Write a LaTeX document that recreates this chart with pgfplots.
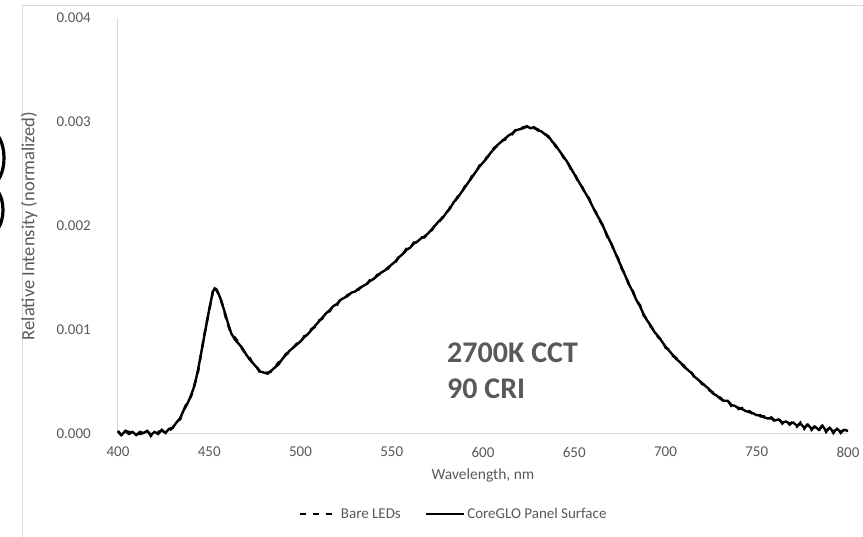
\documentclass[border=0pt]{standalone}
\usepackage{pgfplots}
\usepackage{pgfplotstable}
\pgfplotsset{compat=1.18}
\usepackage{fontspec}
\setmainfont{Carlito}
\definecolor{tickgray}{HTML}{595959}
\definecolor{linegray}{HTML}{D9D9D9}
\pgfplotstableread{
wl bare core
400 0.00003 0.00002
402 -0.00002 -0.00001
404 0.00003 0.00003
406 0.00002 0.00000
408 0.00001 0.00002
410 0.00000 -0.00001
412 0.00000 0.00002
414 0.00001 0.00001
416 0.00004 0.00003
418 -0.00002 -0.00001
420 0.00002 0.00002
422 0.00002 0.00000
424 0.00003 0.00004
426 0.00002 0.00001
428 0.00003 0.00005
430 0.00006 0.00006
432 0.00012 0.00011
434 0.00014 0.00015
436 0.00023 0.00023
438 0.00031 0.00029
440 0.00036 0.00037
442 0.00048 0.00047
444 0.00061 0.00063
446 0.00082 0.00082
448 0.00102 0.00101
450 0.00119 0.00120
452 0.00137 0.00137
453 0.00142 0.00140
454 0.00138 0.00139
456 0.00132 0.00131
458 0.00119 0.00120
460 0.00106 0.00108
462 0.00097 0.00097
464 0.00093 0.00091
466 0.00088 0.00087
468 0.00082 0.00083
470 0.00077 0.00077
472 0.00074 0.00072
474 0.00067 0.00068
476 0.00065 0.00064
478 0.00058 0.00060
480 0.00059 0.00059
482 0.00059 0.00058
484 0.00060 0.00061
486 0.00064 0.00064
488 0.00069 0.00067
490 0.00071 0.00072
492 0.00077 0.00076
494 0.00078 0.00080
496 0.00083 0.00083
498 0.00087 0.00086
500 0.00088 0.00089
502 0.00094 0.00093
504 0.00095 0.00096
506 0.00101 0.00100
508 0.00103 0.00104
510 0.00109 0.00108
512 0.00111 0.00112
514 0.00117 0.00116
516 0.00118 0.00119
518 0.00124 0.00123
520 0.00124 0.00125
522 0.00130 0.00129
524 0.00130 0.00131
526 0.00134 0.00133
528 0.00135 0.00136
530 0.00138 0.00137
532 0.00139 0.00140
534 0.00143 0.00142
536 0.00143 0.00144
538 0.00148 0.00147
540 0.00148 0.00149
542 0.00153 0.00152
544 0.00154 0.00155
546 0.00158 0.00157
548 0.00159 0.00160
550 0.00164 0.00163
552 0.00165 0.00166
554 0.00171 0.00170
556 0.00172 0.00173
558 0.00178 0.00177
560 0.00178 0.00179
562 0.00184 0.00183
564 0.00184 0.00185
566 0.00189 0.00188
568 0.00189 0.00190
570 0.00194 0.00193
572 0.00196 0.00197
574 0.00202 0.00201
576 0.00204 0.00205
578 0.00209 0.00208
580 0.00212 0.00213
582 0.00218 0.00217
584 0.00222 0.00223
586 0.00228 0.00227
588 0.00231 0.00232
590 0.00238 0.00237
592 0.00241 0.00242
594 0.00248 0.00247
596 0.00251 0.00252
598 0.00258 0.00257
600 0.00260 0.00261
602 0.00266 0.00265
604 0.00269 0.00270
606 0.00275 0.00274
608 0.00277 0.00278
610 0.00282 0.00281
612 0.00283 0.00284
614 0.00288 0.00287
616 0.00288 0.00289
618 0.00293 0.00292
620 0.00292 0.00293
622 0.00295 0.00294
624 0.00295 0.00296
626 0.00295 0.00294
628 0.00294 0.00295
630 0.00293 0.00292
632 0.00290 0.00291
634 0.00289 0.00288
636 0.00285 0.00286
638 0.00282 0.00281
640 0.00276 0.00277
642 0.00273 0.00272
644 0.00266 0.00267
646 0.00263 0.00262
648 0.00255 0.00256
650 0.00251 0.00250
652 0.00243 0.00244
654 0.00239 0.00238
656 0.00231 0.00232
658 0.00227 0.00226
660 0.00218 0.00219
662 0.00213 0.00212
664 0.00205 0.00206
666 0.00200 0.00199
668 0.00190 0.00191
670 0.00185 0.00184
672 0.00175 0.00176
674 0.00169 0.00168
676 0.00159 0.00160
678 0.00153 0.00152
680 0.00143 0.00144
682 0.00138 0.00137
684 0.00128 0.00129
686 0.00124 0.00123
688 0.00114 0.00115
690 0.00110 0.00109
692 0.00103 0.00104
694 0.00099 0.00098
696 0.00093 0.00094
698 0.00090 0.00089
700 0.00083 0.00084
702 0.00081 0.00080
704 0.00075 0.00076
706 0.00073 0.00072
708 0.00068 0.00069
710 0.00066 0.00065
712 0.00061 0.00062
714 0.00060 0.00059
716 0.00054 0.00055
718 0.00053 0.00052
720 0.00048 0.00049
722 0.00047 0.00046
724 0.00042 0.00043
726 0.00040 0.00039
728 0.00036 0.00037
730 0.00035 0.00034
732 0.00031 0.00032
734 0.00033 0.00032
736 0.00027 0.00028
738 0.00028 0.00027
740 0.00024 0.00025
742 0.00025 0.00024
744 0.00021 0.00022
746 0.00022 0.00021
748 0.00019 0.00020
750 0.00019 0.00018
752 0.00017 0.00018
754 0.00017 0.00016
756 0.00014 0.00015
758 0.00016 0.00015
760 0.00012 0.00013
762 0.00015 0.00014
764 0.00010 0.00011
766 0.00013 0.00012
768 0.00009 0.00010
770 0.00012 0.00011
772 0.00007 0.00008
774 0.00011 0.00010
776 0.00005 0.00006
778 0.00010 0.00009
780 0.00004 0.00005
782 0.00008 0.00007
784 0.00003 0.00004
786 0.00009 0.00008
788 0.00002 0.00003
790 0.00007 0.00006
792 0.00001 0.00002
794 0.00006 0.00005
796 0.00001 0.00002
798 0.00005 0.00004
800 0.00002 0.00003
}\spectrum
\begin{document}
\begin{tikzpicture}
% page = 863 x 537, axis box lower-left at (118pt,103pt) from page lower-left
\useasboundingbox (-118pt,-103pt) rectangle (745pt,434pt);
\fill[white] (-118pt,-103pt) rectangle (745pt,434pt);
% chart frame (cropped at right and bottom)
\draw[linegray, line width=1pt] (-95pt,-115pt) -- (-95pt,428pt) -- (760pt,428pt);
% partly cropped glyph shapes at the far left
\draw[black, line width=3.2pt] (-128pt,303pt) arc[start angle=90, end angle=-90, x radius=14pt, y radius=27pt];
\draw[black, line width=3.2pt] (-130pt,249pt) arc[start angle=90, end angle=-90, x radius=15pt, y radius=25pt];
\begin{axis}[
  at={(0pt,0pt)}, anchor=south west,
  scale only axis, width=730pt, height=416pt,
  xmin=400, xmax=800, ymin=0, ymax=0.004,
  clip=false,
  axis x line*=bottom, axis y line*=left,
  axis line style={linegray, line width=1pt, -},
  major tick length=0pt,
  xtick={400,450,...,800},
  ytick={0,0.001,0.002,0.003,0.004},
  scaled y ticks=false,
  /pgf/number format/assume math mode=true,
  yticklabel style={/pgf/number format/fixed, /pgf/number format/fixed zerofill, /pgf/number format/precision=3,
     font=\fontsize{15}{18}\selectfont, text=tickgray, anchor=east, inner sep=0pt, xshift=-27pt},
  xticklabel style={/pgf/number format/1000 sep={}, font=\fontsize{15}{18}\selectfont, text=tickgray,
     anchor=north, inner sep=0pt, yshift=-13pt},
  xlabel={Wavelength, nm},
  ylabel={Relative Intensity (normalized)},
  xlabel style={at={(axis description cs:0.5,-0.0986)}, anchor=center, font=\fontsize{15.5}{18}\selectfont, text=tickgray},
  ylabel style={at={(axis description cs:-0.1219,0.5)}, anchor=center, font=\fontsize{18.5}{22}\selectfont, text=tickgray},
  legend columns=2,
  legend style={at={(axis description cs:0.4596,-0.1923)}, anchor=center, draw=none, fill=none,
     font=\fontsize{15}{18}\selectfont, text=tickgray,
     /tikz/every even column/.append style={column sep=22pt}},
  legend image code/.code={\draw[#1] (0pt,0pt) -- (38pt,0pt);},
]
\addplot[black, line width=2.4pt, dash pattern=on 6pt off 7pt] table[x=wl, y=bare] {\spectrum};
\addlegendentry{Bare LEDs}
\addplot[black, line width=2.4pt] table[x=wl, y=core] {\spectrum};
\addlegendentry{CoreGLO Panel Surface}
\node[anchor=base west, inner sep=0pt, text=tickgray, font=\fontsize{30}{34}\selectfont\bfseries] at (axis cs:580.3,0.000692) {2700K CCT};
\node[anchor=base west, inner sep=0pt, text=tickgray, font=\fontsize{30}{34}\selectfont\bfseries] at (axis cs:580.3,0.000346) {90 CRI};
\end{axis}
\end{tikzpicture}
\end{document}
